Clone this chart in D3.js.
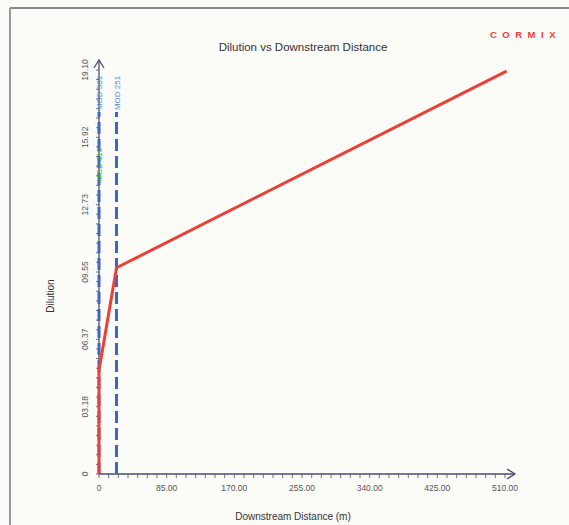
<!DOCTYPE html>
<html>
<head>
<meta charset="utf-8">
<script src="https://cdn.jsdelivr.net/npm/d3@7"></script>
<style>
  html, body { margin: 0; padding: 0; background: #fbfbf8; }
  svg { display: block; font-family: "Liberation Sans", Arial, sans-serif; }
</style>
</head>
<body>
<svg></svg>
<script>
// Dilution vs downstream distance (CORMIX output)
const distance = [0, 0, 22, 512];
const dilution = [0, 4.9, 9.75, 19.05];

const xTicks = [0, 85, 170, 255, 340, 425, 510];
const xTickLabels = ["0", "85.00", "170.00", "255.00", "340.00", "425.00", "510.00"];
const yTicks = [0, 3.18, 6.37, 9.55, 12.73, 15.92, 19.10];
const yTickLabels = ["0", "03.18", "06.37", "09.55", "12.73", "15.92", "19.10"];

// module boundaries (distance where each module starts)
const modules = ["MOD 301", "MOD 251"];
const moduleX = [0, 22];

const width = 569;
const height = 525;

const svg = d3.select("svg").attr("width", width).attr("height", height);

// frame
svg.append("line").attr("x1", 10).attr("y1", 8).attr("x2", width).attr("y2", 8)
  .attr("stroke", "#8a8494").attr("stroke-width", 2);
svg.append("line").attr("x1", 10).attr("y1", 8).attr("x2", 10).attr("y2", height)
  .attr("stroke", "#9a9a9a").attr("stroke-width", 2);

const x = d3.scaleLinear().domain([0, 510]).range([99, 505]);
const y = d3.scaleLinear().domain([0, 19.10]).range([474, 70]);

// title + logo
svg.append("text").attr("x", 303).attr("y", 51).attr("text-anchor", "middle")
  .attr("font-size", 11.5).attr("fill", "#333").text("Dilution vs Downstream Distance");
svg.append("text").attr("x", 490).attr("y", 38).attr("font-size", 9.5)
  .attr("font-weight", "bold").attr("letter-spacing", 5.5).attr("fill", "#e8403a")
  .text("CORMIX");

// axis titles
svg.append("text").attr("x", 293).attr("y", 520).attr("text-anchor", "middle")
  .attr("font-size", 10).attr("fill", "#333").text("Downstream Distance (m)");
svg.append("text").attr("transform", "translate(54,296) rotate(-90)")
  .attr("text-anchor", "middle").attr("font-size", 10).attr("fill", "#333").text("Dilution");

// x axis line + arrow
const axisColor = "#4a4f6e";
svg.append("line").attr("x1", x(0)).attr("y1", y(0)).attr("x2", 515).attr("y2", y(0))
  .attr("stroke", axisColor).attr("stroke-width", 1.3);
svg.append("path").attr("d", `M507,${y(0) - 5} L515,${y(0)} L507,${y(0) + 5}`)
  .attr("fill", "none").attr("stroke", axisColor).attr("stroke-width", 1.3);

// x ticks (7 per labelled interval)
const xMinor = d3.range(0, 43).map((i) => (i * 510) / 42);
svg.append("g").selectAll("line").data(xMinor).join("line")
  .attr("x1", (d) => x(d)).attr("x2", (d) => x(d))
  .attr("y1", y(0)).attr("y2", y(0) + 4)
  .attr("stroke", axisColor).attr("stroke-width", 0.8);
svg.append("g").selectAll("text").data(xTicks).join("text")
  .attr("x", (d) => x(d)).attr("y", 491).attr("text-anchor", "middle")
  .attr("font-size", 8.5).attr("fill", "#555")
  .text((d, i) => xTickLabels[i]);

// y axis line + arrow
svg.append("line").attr("x1", x(0)).attr("y1", y(0)).attr("x2", x(0)).attr("y2", 60)
  .attr("stroke", axisColor).attr("stroke-width", 1.3);
svg.append("path").attr("d", `M${x(0) - 5},68 L${x(0)},60 L${x(0) + 5},68`)
  .attr("fill", "none").attr("stroke", axisColor).attr("stroke-width", 1.3);

const yMinor = d3.range(0, 43).map((i) => (i * 19.10) / 42);
svg.append("g").selectAll("line").data(yMinor).join("line")
  .attr("x1", x(0) - 3).attr("x2", x(0))
  .attr("y1", (d) => y(d)).attr("y2", (d) => y(d))
  .attr("stroke", axisColor).attr("stroke-width", 0.8);
svg.append("g").selectAll("text").data(yTicks).join("text")
  .attr("transform", (d) => `translate(88,${y(d)}) rotate(-90)`)
  .attr("text-anchor", "middle").attr("font-size", 8.5).attr("fill", "#555")
  .text((d, i) => yTickLabels[i]);

// module boundary lines
const modColor = "#3d66c0";
moduleX.forEach((m, i) => {
  svg.append("line")
    .attr("x1", x(m)).attr("x2", x(m))
    .attr("y1", y(0)).attr("y2", 112)
    .attr("stroke", modColor).attr("stroke-width", 3)
    .attr("stroke-dasharray", "12,5");
  svg.append("text")
    .attr("transform", `translate(${x(m) + 3},93) rotate(-90)`)
    .attr("text-anchor", "middle").attr("font-size", 8).attr("fill", "#4a8fd0")
    .text(modules[i]);
});

// green module label overlapping the axis
svg.append("text")
  .attr("transform", `translate(${x(0) + 3},165) rotate(-90)`)
  .attr("text-anchor", "middle").attr("font-size", 8).attr("fill", "#3fb04a")
  .text("MOD 110");

// dilution curve
const line = d3.line().x((d, i) => x(distance[i])).y((d) => y(d));
svg.append("path").datum(dilution)
  .attr("d", line)
  .attr("fill", "none").attr("stroke", "#ec4036").attr("stroke-width", 3)
  .attr("stroke-linejoin", "round");
</script>
</body>
</html>
